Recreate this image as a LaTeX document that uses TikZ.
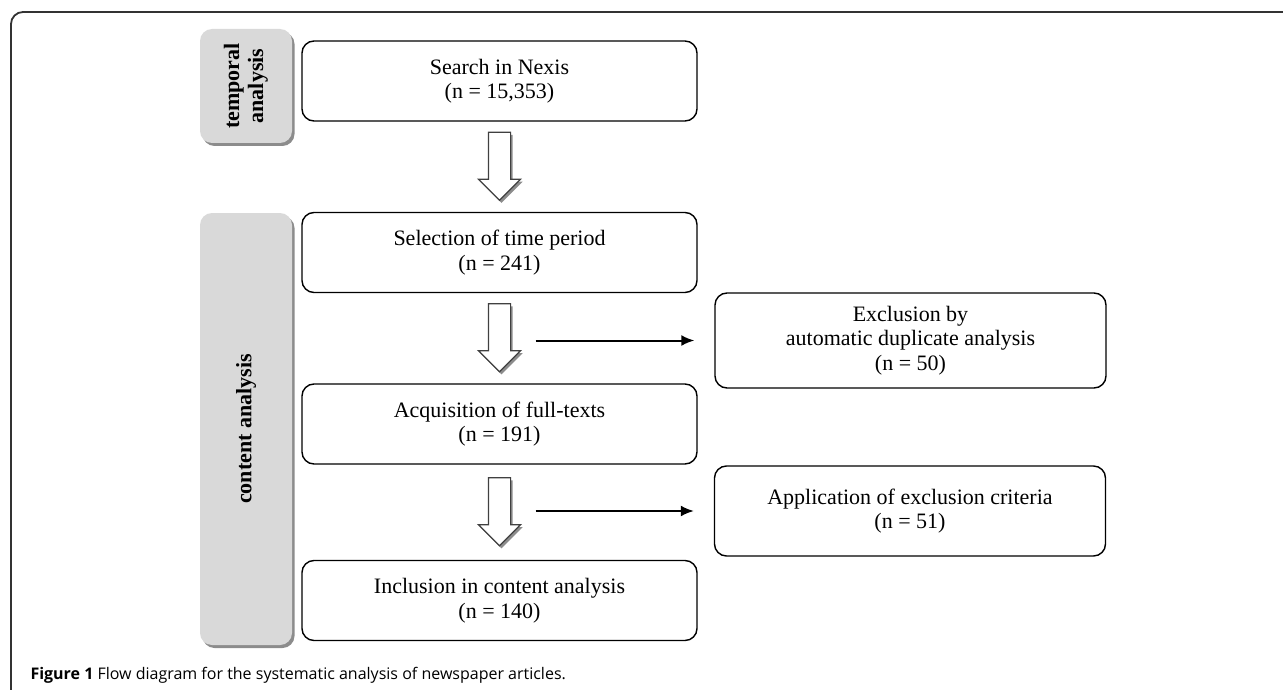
\documentclass[tikz,border=0pt]{standalone}
\usepackage{fontspec}
\setmainfont{Liberation Serif}
\newfontfamily\capfont{Open Sans}
\usepackage{tikz}
\usetikzlibrary{shapes.arrows, shadows, calc, arrows.meta}
\definecolor{sidegray}{HTML}{D9D9D9}
\definecolor{framegray}{HTML}{333333}
\tikzstyle{arrow} = [line width=2pt,->,>={Latex[length=13pt,width=11pt]}]
\tikzstyle{roundRec} = [rectangle, rounded corners=12pt, minimum width=395pt, minimum height=80pt, text centered, draw=black, line width=1.4pt, font=\fontsize{22}{24.5}\selectfont]
\tikzstyle{sideRec} = [rectangle, rounded corners=12pt, minimum width=92pt, fill=sidegray, text centered, font=\bfseries\fontsize{22}{26}\selectfont, drop shadow={shadow xshift=2.5pt, shadow yshift=-3pt, fill=black!45, opacity=1}]
\tikzstyle{hollowArrow} = [single arrow, draw=black!75, line width=1.2pt, fill=white, shape border rotate=270, minimum height=68pt, minimum width=41pt, single arrow head extend=10pt, inner sep=10.5pt, yshift=6pt, drop shadow={shadow xshift=2pt, shadow yshift=-2.5pt, fill=black!45, opacity=1}]

\begin{document}
\begin{tikzpicture}[x=1pt, y=1pt, node distance=171.5pt, every text node part/.style={align=center}]
		\useasboundingbox (0,0) rectangle (1283,-690);
		\draw [line width=1.8pt, framegray, rounded corners=12pt] (1283,-12) -- (11,-12) -- (11,-690);
		% left hand labels
		\node (temporal) [sideRec, minimum height=114pt] at (246,-86) {\rotatebox{90}{\begin{tabular}{c}temporal\\[-2pt] analysis\end{tabular}}};
		\node (content) [sideRec, minimum height=432pt] at (246,-429) {\rotatebox{90}{content analysis}};
		% main flow
		\node (search) [roundRec] at (499.5,-81) {Search in Nexis \\ (n = 15,353)};
		\node (select) [roundRec, below of=search] {Selection of time period \\ (n = 241)};
		\node (acquire) [roundRec, below of=select] {Acquisition of full-texts \\ (n = 191)};
		\node (include) [roundRec, below of=acquire, yshift=-5pt] {Inclusion in content analysis \\ (n = 140)};
		\node (dupl) [roundRec, minimum width=391pt, minimum height=95pt] at (910.5,-340.5) {Exclusion by \\ automatic duplicate analysis \\ (n = 50)};
		\node (criteria) [roundRec, minimum width=391pt, minimum height=90pt] at (910,-511) {Application of exclusion criteria \\ (n = 51)};
		\node (arr1) [hollowArrow] at ($(search)!0.5!(select)$) {};
		\node (arr2) [hollowArrow] at ($(select)!0.5!(acquire)$) {};
		\node (arr3) [hollowArrow] at ($(acquire)!0.5!(include)$) {};
		\draw [arrow, shorten <=36pt, shorten >=20pt] (dupl.west -| arr2.center) -- (dupl.west);
		\draw [arrow, shorten <=36pt, shorten >=20pt] (criteria.west -| arr3.center) -- (criteria.west);
		% caption
		\node (caption) [anchor=base west, font=\capfont\fontsize{16}{19}\selectfont] at (27,-679) {\textbf{Figure 1} Flow diagram for the systematic analysis of newspaper articles.};
	\end{tikzpicture}
\end{document}
